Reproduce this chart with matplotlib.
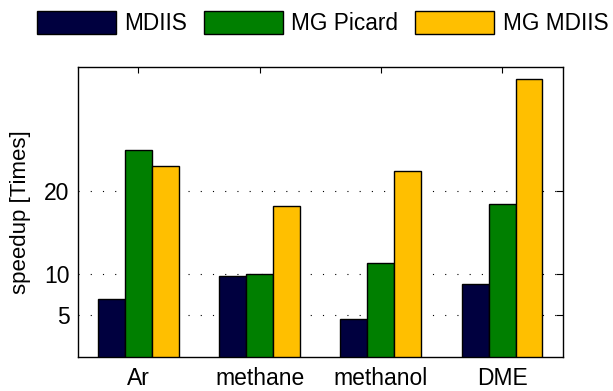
import matplotlib
matplotlib.use("Agg")
import matplotlib.pyplot as plt
import numpy as np

plt.rcParams['font.family'] = ['Liberation Sans', 'DejaVu Sans']

categories = ["Ar", "methane", "methanol", "DME"]
series_names = ["MDIIS", "MG Picard", "MG MDIIS"]
mdiis = [7.0, 9.7, 4.6, 8.8]
mg_picard = [24.9, 10.0, 11.3, 18.4]
mg_mdiis = [22.9, 18.1, 22.3, 33.4]
yticks = [5, 10, 20]
colors = ["#00003f", "#007f00", "#ffbf00"]

W, H = 613, 391
fig = plt.figure(figsize=(W / 100, H / 100), dpi=100)
ax = fig.add_axes([77.7 / W, 1 - 357 / H, (562.7 - 77.7) / W, (357 - 67.3) / H])

x = np.arange(1, len(categories) + 1)
bw = 0.222
handles = []
for i, (vals, name, c) in enumerate(zip([mdiis, mg_picard, mg_mdiis], series_names, colors)):
    h = ax.bar(x + (i - 1) * bw, vals, width=bw, color=c, edgecolor="black",
               linewidth=1.0, label=name, zorder=3)
    handles.append(h)

ax.set_xlim(0.5, 4.5)
ax.set_ylim(0, 34.8)
ax.set_xticks(x)
ax.set_xticklabels(categories, fontsize=16.5)
ax.set_yticks(yticks)
ax.set_yticklabels([str(t) for t in yticks], fontsize=16.5)
ax.tick_params(axis="x", direction="in", bottom=False, top=True, labelbottom=True,
               length=4, width=0.8, pad=7)
ax.tick_params(axis="y", direction="in", left=False, right=True, labelleft=True,
               length=5, width=0.8, pad=6)
for yv in yticks:
    ax.axhline(yv, color="black", linestyle=(0, (1, 10)), linewidth=0.8, zorder=1)
for s in ax.spines.values():
    s.set_linewidth(1.0)
ax.set_ylabel("speedup [Times]", fontsize=16)
ax.yaxis.set_label_coords(-0.097, 0.5)

fig.legend(handles=handles, labels=series_names, loc="upper left",
           bbox_to_anchor=(36.5 / W, 1 - 10.6 / H), ncol=3, frameon=False,
           fontsize=16.3, handlelength=3.5, handleheight=1.22, handletextpad=0.37,
           columnspacing=0.74, borderpad=0, borderaxespad=0)

fig.savefig("out.png", dpi=100)
